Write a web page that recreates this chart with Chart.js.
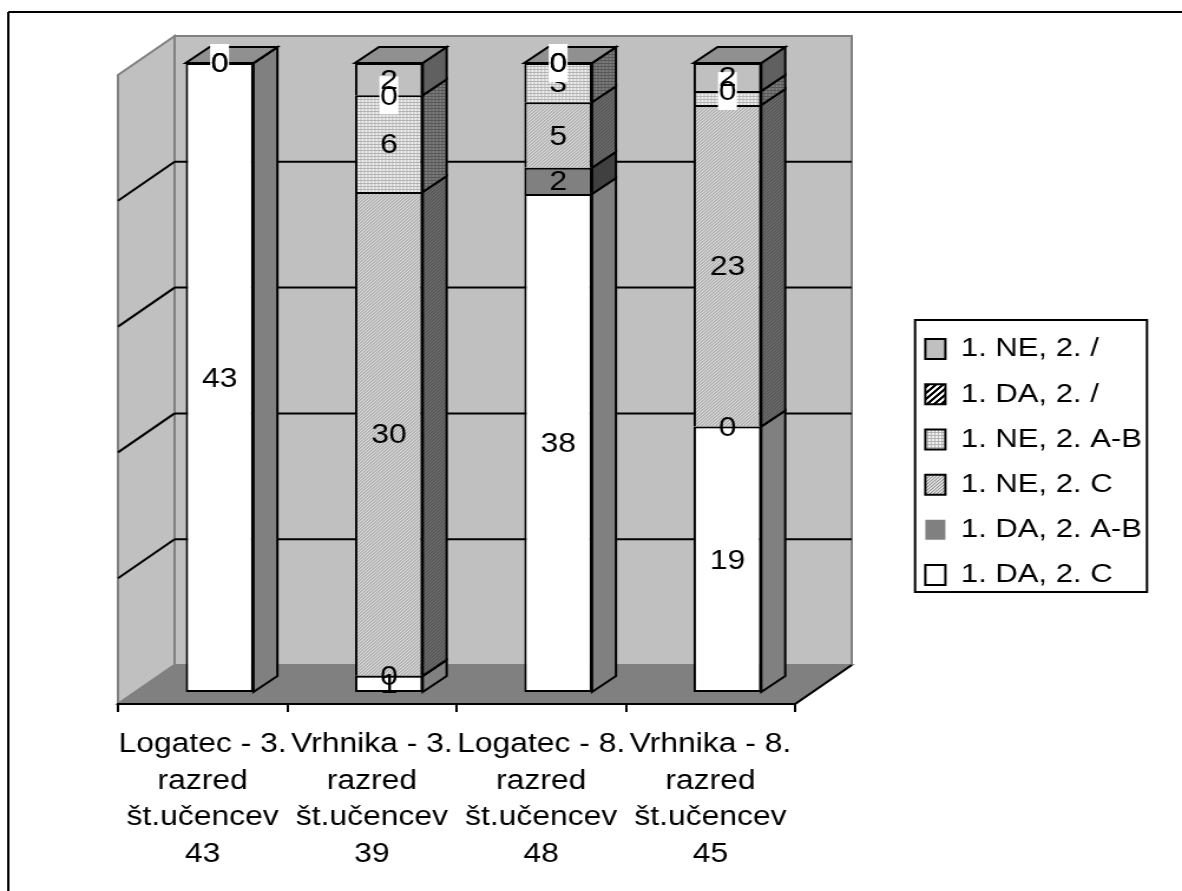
<!DOCTYPE html>
<html>
<head>
<meta charset="utf-8">
<title>Chart</title>
<style>
  html, body { margin: 0; padding: 0; background: #fff; overflow: hidden; }
  #chart { display: block; }
</style>
<script src="https://cdn.jsdelivr.net/npm/chart.js@4/dist/chart.umd.min.js"></script>
</head>
<body>
<!-- the reference is stretched sideways, text included, so the canvas is too -->
<canvas id="chart" width="1002" height="891" style="width:1182px;height:891px"></canvas>
<script>
// Data
const categories = [
  ['Logatec - 3.', 'razred', 'št.učencev', '43'],
  ['Vrhnika - 3.', 'razred', 'št.učencev', '39'],
  ['Logatec - 8.', 'razred', 'št.učencev', '48'],
  ['Vrhnika - 8.', 'razred', 'št.učencev', '45']
];
const pupilCounts = [43, 39, 48, 45];
const seriesNames = ['1. DA, 2. C', '1. DA, 2. A-B', '1. NE, 2. C', '1. NE, 2. A-B', '1. DA, 2. /', '1. NE, 2. /'];
const daC = [43, 1, 38, 19];
const daAB = [0, 0, 2, 0];
const neC = [0, 30, 5, 23];
const neAB = [0, 6, 3, 1];
const daNone = [0, 0, 0, 0];
const neNone = [0, 2, 0, 2];
const seriesValues = [daC, daAB, neC, neAB, daNone, neNone];
const percentTicks = 20;

// the "1. DA, 2. /" labels have a white box behind them
const boxedSeries = 4;

const FONT = "27px 'Liberation Sans'";
Chart.defaults.font.family = "'Liberation Sans'";
Chart.defaults.color = '#000';

const wallDx = 48, wallDy = 39;
const barDx = 20.3, barDy = 16;
const barShiftX = 14.4, barShiftY = -12;

function makePattern(size, paint) {
  const c = document.createElement('canvas');
  c.width = c.height = size;
  const g = c.getContext('2d');
  for (let x = 0; x < size; x++) {
    for (let y = 0; y < size; y++) {
      g.fillStyle = paint(x, y);
      g.fillRect(x, y, 1, 1);
    }
  }
  return g.createPattern(c, 'repeat');
}
const dither = (a, b) => makePattern(3, (x, y) => (x + y) % 3 === 0 ? a : b);
const grid = (a, b) => makePattern(3, (x, y) => (x === 0 || y === 0) ? a : b);
const hatch = (a, b) => makePattern(6, (x, y) => (x + y) % 6 < 3 ? a : b);

const frontFills = ['#ffffff', '#808080', dither('#888888', '#e0e0e0'), grid('#b4b4b4', '#f4f4f4'), hatch('#000000', '#ffffff'), '#c0c0c0'];
const sideFills = ['#808080', '#404040', dither('#444444', '#707070'), grid('#585858', '#808080'), hatch('#000000', '#808080'), '#606060'];
const topFill = '#909090';

function shape(ctx, pts, fill, stroke) {
  ctx.beginPath();
  pts.forEach((p, i) => i ? ctx.lineTo(p[0], p[1]) : ctx.moveTo(p[0], p[1]));
  ctx.closePath();
  if (fill) { ctx.fillStyle = fill; ctx.fill(); }
  if (stroke) { ctx.strokeStyle = stroke; ctx.lineWidth = 2; ctx.stroke(); }
}

function line(ctx, x1, y1, x2, y2, color) {
  ctx.beginPath();
  ctx.moveTo(x1, y1);
  ctx.lineTo(x2, y2);
  ctx.strokeStyle = color;
  ctx.lineWidth = 2;
  ctx.stroke();
}

// Box, walls and floor behind the bars
const backdrop = {
  id: 'backdrop',
  afterLayout(chart) {
    const lg = chart.legend;
    lg.left = 765.5; lg.right = 990; lg.top = 317; lg.bottom = 800;
  },
  beforeDraw(chart) {
    const ctx = chart.ctx;
    const { left: l, right: r, top: t, bottom: b } = chart.chartArea;
    ctx.save();
    ctx.fillStyle = '#fff';
    ctx.fillRect(0, 0, chart.width, chart.height);

    // only the left and top edge of the outer frame are in the picture
    line(ctx, 7, 12, 7, chart.height, '#000');
    line(ctx, 7, 12, chart.width, 12, '#000');

    shape(ctx, [[l + wallDx, t - wallDy], [r + wallDx, t - wallDy], [r + wallDx, b - wallDy], [l + wallDx, b - wallDy]], '#c0c0c0', '#808080');
    shape(ctx, [[l, t], [l + wallDx, t - wallDy], [l + wallDx, b - wallDy], [l, b]], '#c0c0c0', '#808080');
    shape(ctx, [[l, b], [r, b], [r + wallDx, b - wallDy], [l + wallDx, b - wallDy]], '#808080', '#808080');
    line(ctx, r, b, r + wallDx, b - wallDy, '#000');

    chart.scales.y.ticks.forEach(tick => {
      if (tick.value === 0 || tick.value === 100) return;
      const y = chart.scales.y.getPixelForValue(tick.value);
      line(ctx, l, y, l + wallDx, y - wallDy, '#000');
      line(ctx, l + wallDx, y - wallDy, r + wallDx, y - wallDy, '#000');
    });

    // legend frame
    ctx.fillStyle = '#fff';
    ctx.fillRect(775.7, 320, 196.6, 272);
    ctx.strokeStyle = '#000';
    ctx.lineWidth = 2;
    ctx.strokeRect(775.7, 320, 196.6, 272);
    ctx.restore();
  }
};

// Side and top faces of the bars, then the value labels
const bars3d = {
  id: 'bars3d',
  beforeDatasetsDraw(chart) {
    const ctx = chart.ctx;
    ctx.save();
    ctx.translate(barShiftX, barShiftY);
    chart.data.datasets.forEach((ds, i) => {
      chart.getDatasetMeta(i).data.forEach(bar => {
        const right = bar.x + bar.width / 2;
        shape(ctx, [[right, bar.y], [right + barDx, bar.y - barDy], [right + barDx, bar.base - barDy], [right, bar.base]], sideFills[i], '#000');
      });
    });
    chart.getDatasetMeta(seriesValues.length - 1).data.forEach(bar => {
      const left = bar.x - bar.width / 2, right = bar.x + bar.width / 2;
      shape(ctx, [[left, bar.y], [right, bar.y], [right + barDx, bar.y - barDy], [left + barDx, bar.y - barDy]], topFill, '#000');
    });
  },
  afterDatasetsDraw(chart) {
    const ctx = chart.ctx;
    ctx.font = FONT;
    ctx.textAlign = 'center';
    ctx.textBaseline = 'middle';
    seriesValues.forEach((values, i) => {
      chart.getDatasetMeta(i).data.forEach((bar, j) => {
        const text = String(values[j]);
        const y = (bar.y + bar.base) / 2;
        if (i === boxedSeries) {
          const w = ctx.measureText(text).width + 1;
          ctx.fillStyle = '#fff';
          ctx.fillRect(bar.x - w / 2, y - 19, w, 38);
        }
        ctx.fillStyle = '#000';
        ctx.fillText(text, bar.x, y + 2);
      });
    });
    ctx.restore();
  }
};

new Chart(document.getElementById('chart'), {
  type: 'bar',
  data: {
    labels: categories,
    datasets: seriesNames.map((name, i) => ({
      label: name,
      // every column fills the full height, so counts become shares of the class
      data: seriesValues[i].map((v, j) => v / pupilCounts[j] * 100),
      backgroundColor: frontFills[i],
      borderColor: '#000',
      borderWidth: 2,
      borderSkipped: i === 0 ? false : 'bottom',
      barPercentage: 0.4,
      categoryPercentage: 1,
      clip: false
    }))
  },
  options: {
    responsive: false,
    animation: false,
    layout: { padding: { left: 100, right: 328, top: 75, bottom: 7 } },
    plugins: {
      tooltip: { enabled: false },
      legend: {
        position: 'chartArea',
        align: 'start',
        reverse: true,
        labels: {
          font: { size: 26.3 },
          boxWidth: 17,
          boxHeight: 20,
          padding: 18.9,
          color: '#000',
          generateLabels: chart => chart.data.datasets.map((ds, i) => ({
            text: ds.label,
            fillStyle: frontFills[i],
            strokeStyle: '#000',
            lineWidth: i === 1 ? 0 : 2,
            datasetIndex: i
          }))
        }
      }
    },
    scales: {
      x: {
        stacked: true,
        afterFit: s => { s.height = 180; },
        grid: { color: '#000', lineWidth: 2, drawOnChartArea: false, tickLength: 8 },
        border: { color: '#000', width: 2 },
        ticks: {
          autoSkip: false,
          maxRotation: 0,
          minRotation: 0,
          padding: 14,
          color: '#000',
          font: { size: 27, lineHeight: 1.36 }
        }
      },
      y: {
        stacked: true,
        display: false,
        min: 0,
        max: 100,
        ticks: { stepSize: percentTicks }
      }
    }
  },
  plugins: [backdrop, bars3d]
});
</script>
</body>
</html>
